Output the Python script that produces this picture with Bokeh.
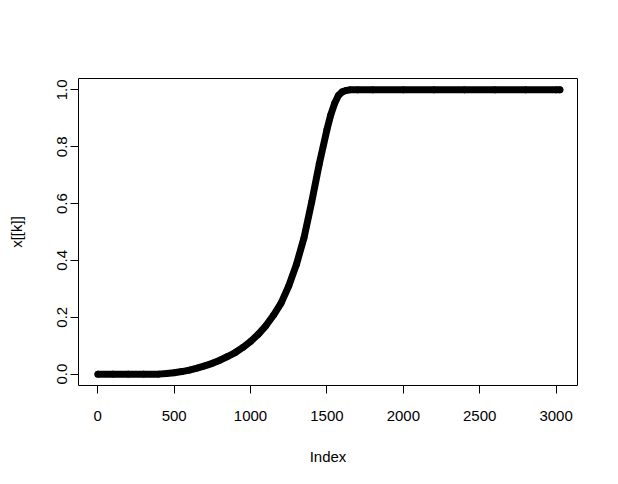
from bokeh.plotting import figure
from bokeh.models import Range1d, FixedTicker
from bokeh.embed import file_html
from bokeh.resources import INLINE

# ---- data ----
index = [1, 100, 200, 300, 400, 450, 500, 550, 600, 650, 700, 750, 800, 850,
         900, 950, 1000, 1050, 1100, 1150, 1200, 1250, 1300, 1350, 1400, 1450,
         1500, 1525, 1550, 1575, 1600, 1625, 1650, 1700, 1800, 2000, 2200,
         2400, 2600, 2800, 3000, 3025]
values = [0.0, 0.0, 0.0, 0.0, 0.0, 0.002, 0.005, 0.009, 0.014, 0.021, 0.029,
          0.038, 0.049, 0.062, 0.076, 0.094, 0.115, 0.140, 0.170, 0.207, 0.250,
          0.310, 0.385, 0.480, 0.605, 0.740, 0.860, 0.912, 0.952, 0.980,
          0.993, 0.998, 1.0, 1.0, 1.0, 1.0, 1.0, 1.0, 1.0, 1.0, 1.0, 1.0]

x_ticks = [0, 500, 1000, 1500, 2000, 2500, 3000]
x_tick_labels = ["0", "500", "1000", "1500", "2000", "2500", "3000"]
y_ticks = [0.0, 0.2, 0.4, 0.6, 0.8, 1.0]
y_tick_labels = ["0.0", "0.2", "0.4", "0.6", "0.8", "1.0"]

FONT = "Liberation Sans"

p = figure(width=610, height=476,
           x_range=Range1d(-126, 3140), y_range=Range1d(-0.04, 1.04),
           output_backend="svg", toolbar_location=None,
           min_border_left=78, min_border_right=33,
           min_border_top=78, min_border_bottom=91)

p.background_fill_color = "white"
p.border_fill_color = "white"
p.outline_line_color = "black"
p.outline_line_width = 1
p.xgrid.visible = False
p.ygrid.visible = False

p.line(index, values, line_color="black", line_width=7,
       line_cap="round", line_join="round")
p.scatter(index, values, marker="circle", size=6, fill_color=None,
          line_color="black", line_width=1)

p.xaxis.ticker = FixedTicker(ticks=x_ticks)
p.xaxis.major_label_overrides = {t: l for t, l in zip(x_ticks, x_tick_labels)}
p.yaxis.ticker = FixedTicker(ticks=y_ticks)
p.yaxis.major_label_overrides = {t: l for t, l in zip(y_ticks, y_tick_labels)}
p.yaxis.major_label_orientation = "vertical"

p.xaxis.axis_label = "Index"
p.yaxis.axis_label = "x[[k]]"

for ax in (p.xaxis, p.yaxis):
    ax.axis_line_color = None
    ax.major_tick_line_color = "black"
    ax.major_tick_in = 0
    ax.major_tick_out = 8
    ax.minor_tick_line_color = None
    ax.major_label_text_font = FONT
    ax.major_label_text_font_size = "15px"
    ax.major_label_text_color = "black"
    ax.axis_label_text_font = FONT
    ax.axis_label_text_font_size = "15px"
    ax.axis_label_text_font_style = "normal"
    ax.axis_label_text_color = "black"

p.xaxis.major_label_standoff = 17
p.xaxis.axis_label_standoff = 24
p.yaxis.major_label_standoff = 3
p.yaxis.axis_label_standoff = 30

open("out.html", "w").write(file_html(p, INLINE))
